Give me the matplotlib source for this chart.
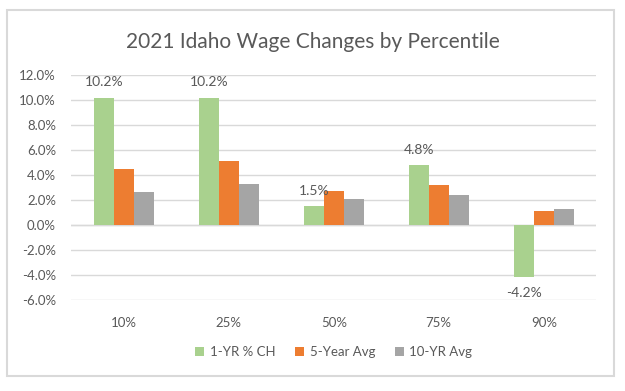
import numpy as np
import matplotlib.pyplot as plt
from matplotlib.patches import Rectangle
from matplotlib.ticker import FuncFormatter

categories = ['10%', '25%', '50%', '75%', '90%']
one_yr = [10.2, 10.2, 1.5, 4.8, -4.2]
five_yr = [4.5, 5.1, 2.7, 3.2, 1.1]
ten_yr = [2.6, 3.3, 2.1, 2.4, 1.3]

plt.rcParams['font.family'] = ['Lato', 'DejaVu Sans']
txt = '#595959'

fig = plt.figure(figsize=(6.25, 3.91), dpi=100)
ax = fig.add_axes([0.114, 0.233, 0.84, 0.575])

x = np.arange(len(categories))
w = 0.19
ax.bar(x - w, one_yr, w, color='#a9d18e', label='1-YR % CH', zorder=3)
ax.bar(x, five_yr, w, color='#ed7d31', label='5-Year Avg', zorder=3)
ax.bar(x + w, ten_yr, w, color='#a5a5a5', label='10-YR Avg', zorder=3)

# data labels only on the 1-yr series
for xi, v in zip(x - w, one_yr):
    off = 0.75 if v >= 0 else -0.75
    ax.text(xi, v + off, f'{v:.1f}%', ha='center', va='bottom' if v >= 0 else 'top',
            color=txt, fontsize=10)

ax.set_ylim(-6, 12)
ax.set_yticks(np.arange(-6, 12.1, 2))
ax.yaxis.set_major_formatter(FuncFormatter(lambda v, p: f'{v:.1f}%'))
ax.set_xlim(-0.5, 4.5)
ax.set_xticks(x)
ax.set_xticklabels(categories)
ax.tick_params(length=0, colors=txt, labelsize=9.5)
ax.tick_params(axis='x', pad=12)
ax.tick_params(axis='y', pad=11)
ax.grid(axis='y', color='#d9d9d9', linewidth=1, zorder=0)
ax.axhline(0, color='#d9d9d9', linewidth=1, zorder=1)
for s in ax.spines.values():
    s.set_visible(False)

fig.text(0.5, 0.893, '2021 Idaho Wage Changes by Percentile', ha='center', va='center',
         fontsize=15, color=txt)

ax.legend(loc='center', bbox_to_anchor=(0.5, -0.231), ncol=3, frameon=False,
          fontsize=9.5, labelcolor=txt, handlelength=0.7, handleheight=0.7,
          handletextpad=0.4, columnspacing=1.5)

fig.patches.append(Rectangle((0.0112, 0.0384), 0.971, 0.936, transform=fig.transFigure,
                             fill=False, edgecolor='#d9d9d9', linewidth=1.5))

fig.savefig('out.png', dpi=100)
